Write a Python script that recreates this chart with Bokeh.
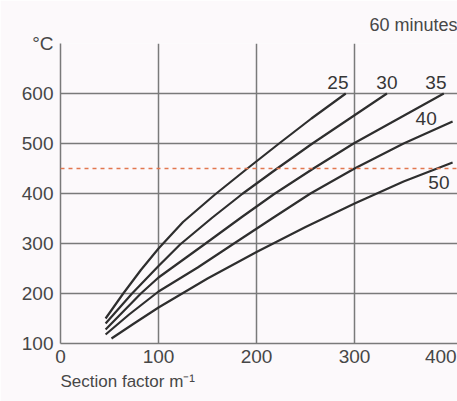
from bokeh.plotting import figure
from bokeh.models import FixedTicker, Range1d, Span, Label, Title
from bokeh.embed import file_html
from bokeh.resources import INLINE

# Section factor (m^-1) vs steel temperature (deg C), 60 minutes, per insulation thickness (mm)
sf_25 = [46, 64, 82, 100, 125, 157, 190, 223, 256, 291]
t_25 = [150, 200, 247, 290, 343, 397, 449, 500, 550, 600]
sf_30 = [46, 73, 100, 122, 155, 186, 221, 257, 295, 333]
t_30 = [140, 200, 255, 298, 352, 400, 450, 500, 550, 600]
sf_35 = [46, 82, 100, 148, 185, 218, 258, 299, 345, 391]
t_35 = [128, 200, 232, 300, 353, 399, 450, 500, 550, 600]
sf_40 = [46, 70, 100, 140, 177, 215, 255, 300, 350, 400]
t_40 = [118, 158, 204, 252, 300, 349, 400, 450, 500, 544]
sf_50 = [52, 75, 100, 150, 200, 250, 300, 350, 400]
t_50 = [110, 140, 172, 230, 283, 333, 380, 424, 462]
series_names = ["25", "30", "35", "40", "50"]
limit_temp = 450
x_tick_labels = ["0", "100", "200", "300", "400"]
y_ticks = [100, 200, 300, 400, 500, 600, 700]

FONT = "Liberation Sans"
BG = "#fcf9fb"
GRID = "#7a7a7a"
TXT = "#474747"

p = figure(width=457, height=401, x_range=Range1d(0, 405), y_range=Range1d(100, 700),
           output_backend="svg", toolbar_location=None,
           min_border_left=60, min_border_right=0, min_border_top=43, min_border_bottom=58)
p.background_fill_color = BG
p.border_fill_color = BG
p.outline_line_color = None

for ax in (p.xaxis, p.yaxis):
    ax.major_tick_line_color = None
    ax.minor_tick_line_color = None
    ax.major_tick_out = 0
    ax.major_tick_in = 0
    ax.axis_line_color = GRID
    ax.axis_line_width = 1.5
    ax.major_label_text_font = FONT
    ax.major_label_text_font_size = "19px"
    ax.major_label_text_color = TXT

# last x label sits left of its grid position, as in the original (kept inside the picture)
x_label_pos = [0, 100, 200, 300, 388]
p.xaxis.ticker = FixedTicker(ticks=x_label_pos)
p.xaxis.major_label_overrides = {pos: lab for pos, lab in zip(x_label_pos, x_tick_labels)}
p.yaxis.ticker = FixedTicker(ticks=y_ticks)
p.yaxis.major_label_overrides = {700: "°C"}
p.xaxis.major_label_standoff = 6
p.yaxis.major_label_standoff = 7

p.xgrid.ticker = FixedTicker(ticks=[100, 200, 300])
p.ygrid.ticker = FixedTicker(ticks=[200, 300, 400, 500, 600, 700])
p.grid.grid_line_color = GRID
p.grid.grid_line_width = 1.5
p.grid.grid_line_alpha = 1.0

p.add_layout(Span(location=limit_temp, dimension="width", line_color="#e2774f",
                  line_dash="4 4", line_width=1.6))

for xs, ys in [(sf_25, t_25), (sf_30, t_30), (sf_35, t_35), (sf_40, t_40), (sf_50, t_50)]:
    p.line(xs, ys, line_color="#2e2e2e", line_width=2.2)

label_pos = [(283, 622), (333, 622), (383, 622), (373, 550), (386, 422)]
for name, (lx, ly) in zip(series_names, label_pos):
    p.add_layout(Label(x=lx, y=ly, text=name, text_align="center", text_baseline="middle",
                       text_font=FONT, text_font_size="19px", text_color="#363636"))

p.add_layout(Title(text="60 minutes", align="right", text_font=FONT, text_font_size="18px",
                   text_color=TXT, text_font_style="normal", standoff=17), "above")
p.add_layout(Title(text="Section factor m⁻¹", align="left", text_font=FONT, text_font_size="17px",
                   text_color=TXT, text_font_style="normal", standoff=9), "below")

open("out.html", "w").write(file_html(p, INLINE))
